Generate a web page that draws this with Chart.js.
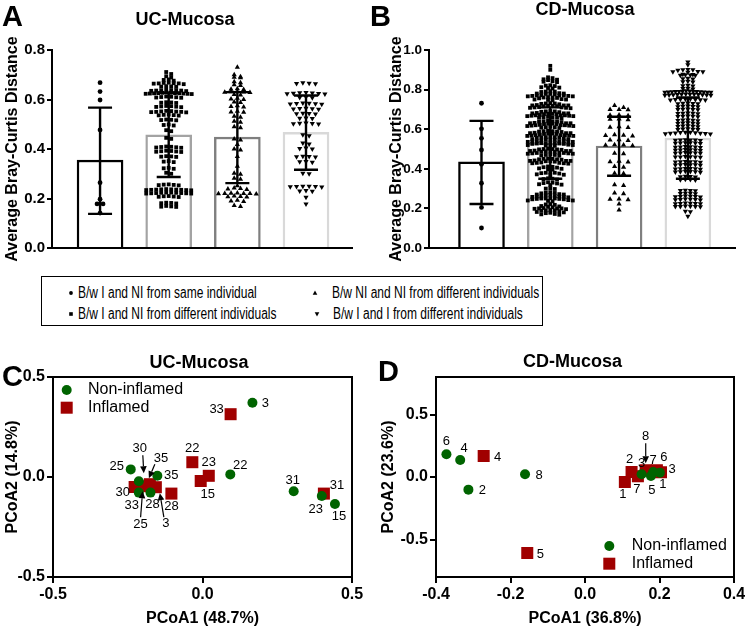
<!DOCTYPE html>
<html><head><meta charset="utf-8">
<script src="https://cdn.jsdelivr.net/npm/chart.js@4.4.1/dist/chart.umd.min.js"></script>
<style>
html,body{margin:0;padding:0;background:#fff;}
body{width:745px;height:628px;position:relative;overflow:hidden;}
canvas{position:absolute;}
#legendBox{position:absolute;left:41px;top:276px;width:502px;height:50px;border:1px solid #000;box-sizing:border-box;font-family:"Liberation Sans",Arial,sans-serif;font-size:16px;color:#000;}
.lg-t{position:absolute;white-space:nowrap;line-height:18px;height:18px;transform:scaleX(0.75);transform-origin:0 50%;}
.lg-m{position:absolute;}
</style></head><body>
<canvas id="cA" width="370" height="265" style="left:0;top:0"></canvas>
<canvas id="cB" width="375" height="265" style="left:370px;top:0"></canvas>
<canvas id="cC" width="370" height="298" style="left:0;top:330px"></canvas>
<canvas id="cD" width="380" height="298" style="left:370px;top:330px"></canvas>
<div id="legendBox">
  <svg class="lg-m" style="left:24.7px;top:12.3px" width="8" height="8"><circle cx="4" cy="4" r="1.9" fill="#000"/></svg>
  <span class="lg-t" style="left:36.3px;top:7.3px">B/w I and NI from same individual</span>
  <svg class="lg-m" style="left:24.7px;top:32.5px" width="8" height="8"><rect x="2.2" y="2.2" width="3.6" height="3.6" fill="#000"/></svg>
  <span class="lg-t" style="left:36.3px;top:27.5px">B/w I and NI from different individuals</span>
  <svg class="lg-m" style="left:269px;top:12.3px" width="8" height="8"><polygon points="4,1.6 6.3,5.8 1.7,5.8" fill="#000"/></svg>
  <span class="lg-t" style="left:289.7px;top:7.3px">B/w NI and NI from different individuals</span>
  <svg class="lg-m" style="left:270.7px;top:32.5px" width="8" height="8"><polygon points="1.7,2.2 6.3,2.2 4,6.4" fill="#000"/></svg>
  <span class="lg-t" style="left:291px;top:27.5px">B/w I and I from different individuals</span>
</div>
<script>
// ======================= DATA =======================
const barCategories = ['B/w I and NI from same individual','B/w I and NI from different individuals','B/w NI and NI from different individuals','B/w I and I from different individuals'];

// ---- Panel A : UC-Mucosa ----
const ucMeans  = [0.355, 0.457, 0.448, 0.467];
const ucSdLow  = [0.138, 0.287, 0.262, 0.316];
const ucSdHigh = [0.567, 0.627, 0.630, 0.616];
const ucSame = [0.668,0.632,0.598,0.477,0.264,0.197,0.178,0.178,0.141];
const ucIvsNIdiff = [
0.711,0.703,0.694,0.689,0.681,0.679,0.676,
0.668,0.667,0.665,0.664,0.665,0.662,0.666,
0.654,0.652,0.651,0.653,
0.638,0.637,0.636,0.635,0.637,0.634,0.636,0.639,
0.627,0.626,0.625,0.624,0.623,0.622,0.624,0.626,0.628,0.625,0.623,0.627,
0.611,0.609,0.608,0.610,0.607,0.612,
0.589,0.587,0.586,0.588,
0.573,0.571,0.570,0.572,0.569,0.574,
0.553,0.551,0.550,0.552,0.549,0.554,0.550,0.548,
0.538,0.537,0.536,0.539,0.535,
0.519,0.517,0.516,0.518,
0.499,0.497,0.495,
0.476,0.472,0.445,0.441,
0.409,0.407,0.406,0.408,0.405,0.410,
0.392,0.390,0.389,0.391,0.388,0.393,
0.371,0.369,0.368,0.370,
0.351,0.349,0.347,
0.324,0.322,0.320,
0.304,0.300,
0.257,0.255,0.254,0.256,0.253,
0.237,0.236,0.235,0.234,0.233,0.236,0.238,0.235,0.234,0.237,
0.224,0.223,0.222,0.221,0.220,0.223,0.222,0.224,0.221,0.220,
0.210,0.208,0.207,0.209,0.206,
0.183,0.181,0.180,0.182,
0.170,0.168,0.167,0.166];
const ucNIvsNIdiff = [
0.730,0.700,0.692,0.690,0.688,0.672,0.668,0.660,0.657,
0.643,0.641,0.640,0.632,0.631,0.629,0.628,0.630,0.620,0.618,
0.605,0.602,0.600,0.590,0.588,0.575,0.572,0.570,0.553,0.550,0.548,
0.532,0.528,0.512,0.508,0.490,0.486,0.440,0.436,0.418,0.400,0.396,
0.370,0.330,0.302,0.298,0.282,0.278,0.252,
0.242,0.240,0.238,0.236,
0.222,0.221,0.220,0.219,0.218,0.220,0.220,
0.210,0.208,0.207,0.206,0.193,0.190,0.188,0.172,0.168];
const ucIvsIdiff = [
0.668,0.666,0.664,0.665,
0.628,0.626,0.625,0.624,0.623,0.627,0.622,
0.610,0.608,0.607,
0.585,0.583,0.582,0.584,0.581,0.586,
0.564,0.562,0.563,0.561,0.565,
0.544,0.542,0.543,0.541,
0.525,0.523,0.524,
0.505,0.503,0.502,0.504,0.501,
0.458,0.454,0.424,0.420,0.404,0.402,0.400,
0.371,0.369,0.368,0.370,0.350,0.348,0.346,
0.302,0.300,
0.250,0.249,0.248,0.247,0.246,0.248,
0.232,0.230,0.229,0.205,0.178];

// ---- Panel B : CD-Mucosa ----
const cdMeans  = [0.435, 0.530, 0.515, 0.555];
const cdSdLow  = [0.222, 0.350, 0.365, 0.350];
const cdSdHigh = [0.642, 0.710, 0.663, 0.760];
const cdSame = [0.731,0.602,0.554,0.495,0.423,0.327,0.205,0.101];
const cdIvsNIdiff = [
0.920,0.900,0.862,0.858,0.852,0.850,0.848,0.842,0.840,0.838,
0.822,0.820,0.818,0.812,0.810,0.808,0.806,
0.792,0.790,0.790,0.788,0.782,0.780,0.780,0.778,0.778,0.776,
0.772,0.770,0.770,0.770,0.768,0.768,0.766,0.766,
0.762,0.760,0.760,0.758,0.756,0.752,0.750,0.750,0.748,0.746,
0.732,0.730,0.730,0.728,0.726,
0.722,0.720,0.720,0.720,0.718,0.718,0.716,0.716,
0.712,0.710,0.710,0.708,0.708,0.706,
0.692,0.690,0.690,0.688,0.686,
0.682,0.680,0.680,0.680,0.678,0.678,0.676,0.676,
0.672,0.670,0.670,0.670,0.668,0.668,0.666,0.666,
0.662,0.660,0.660,0.658,0.658,0.656,
0.642,0.640,0.640,0.638,0.638,0.636,
0.632,0.630,0.630,0.630,0.628,0.628,0.626,0.626,
0.622,0.620,0.620,0.620,0.618,0.618,0.616,0.616,
0.612,0.610,0.610,0.608,0.606,
0.592,0.590,0.590,0.588,0.588,0.586,
0.582,0.580,0.580,0.580,0.578,0.578,0.576,0.576,
0.572,0.570,0.570,0.570,0.568,0.568,0.566,0.566,
0.562,0.560,0.560,0.558,0.558,0.556,
0.552,0.550,0.550,0.548,0.548,0.546,
0.542,0.540,0.540,0.540,0.538,0.538,0.536,0.536,
0.532,0.530,0.530,0.530,0.528,0.528,0.526,0.526,
0.522,0.520,0.520,0.518,0.518,0.516,
0.502,0.500,0.500,0.498,0.498,0.496,
0.492,0.490,0.490,0.490,0.488,0.488,0.486,0.486,
0.482,0.480,0.480,0.478,0.478,0.476,0.476,
0.472,0.470,0.470,0.468,0.466,
0.452,0.450,0.450,0.448,0.448,0.446,
0.442,0.440,0.440,0.440,0.438,0.438,0.436,
0.432,0.430,0.430,0.428,0.428,0.426,
0.412,0.410,0.408,0.406,0.402,0.400,0.398,0.396,
0.382,0.380,0.380,0.378,0.376,0.372,0.370,0.368,
0.352,0.350,0.348,0.346,0.332,0.330,0.328,0.326,0.322,0.320,0.318,
0.302,0.300,0.298,0.282,0.280,0.278,0.276,
0.272,0.270,0.270,0.268,0.266,
0.262,0.260,0.260,0.260,0.258,0.258,0.256,
0.252,0.250,0.250,0.250,0.248,0.248,0.246,0.246,
0.242,0.240,0.240,0.238,0.236,
0.222,0.220,0.218,0.212,0.210,0.208,0.206,
0.202,0.200,0.200,0.200,0.198,0.196,
0.192,0.190,0.190,0.188,0.186,
0.182,0.180,0.178,0.176,0.172,0.170,0.168];
const cdNIvsNIdiff = [
0.720,0.710,0.700,0.700,0.698,0.672,0.670,0.668,0.652,0.650,0.648,
0.612,0.610,0.608,0.572,0.570,0.568,0.566,0.547,0.545,0.543,
0.522,0.520,0.519,0.517,0.478,0.476,0.438,0.436,0.434,0.412,0.408,
0.378,0.376,0.320,0.316,0.278,0.274,0.248,0.246,0.244,0.222,0.192];
const cdIvsIdiff = [
0.940,0.925,0.902,0.900,0.900,0.898,0.892,0.890,0.890,0.888,
0.878,0.876,0.875,0.874,0.873,0.872,0.857,0.855,0.853,0.842,0.840,0.838,
0.822,0.820,0.818,0.807,0.805,0.803,
0.794,0.793,0.792,0.791,0.790,0.790,0.790,0.789,0.789,0.788,0.788,0.787,0.786,0.786,
0.778,0.777,0.776,0.776,0.775,0.775,0.774,0.774,0.773,0.773,0.772,0.771,
0.753,0.752,0.751,0.750,0.750,0.749,0.748,0.747,
0.732,0.731,0.730,0.729,0.728,0.717,0.716,0.715,0.714,0.713,
0.702,0.701,0.700,0.699,0.698,0.682,0.681,0.680,0.679,0.678,
0.667,0.666,0.665,0.664,0.663,0.647,0.646,0.645,0.644,0.643,
0.632,0.631,0.630,0.629,0.628,0.617,0.616,0.615,0.614,0.613,
0.602,0.601,0.600,0.599,0.598,
0.585,0.584,0.583,0.582,0.581,0.580,0.579,0.578,0.577,0.576,
0.547,0.546,0.545,0.545,0.544,0.543,0.532,0.531,0.530,0.530,0.529,0.528,
0.512,0.511,0.510,0.510,0.509,0.508,0.497,0.496,0.495,0.495,0.494,0.493,
0.482,0.481,0.480,0.480,0.479,0.478,0.462,0.461,0.460,0.460,0.459,0.458,
0.437,0.436,0.435,0.435,0.434,0.433,0.422,0.421,0.420,0.420,0.419,0.418,
0.402,0.401,0.400,0.400,0.399,0.398,0.387,0.386,0.385,0.385,0.384,0.383,
0.362,0.361,0.360,0.359,0.347,0.346,0.345,0.344,
0.292,0.291,0.290,0.289,0.277,0.276,0.275,0.274,
0.262,0.261,0.260,0.260,0.259,0.258,0.247,0.246,0.245,0.245,0.244,0.243,
0.227,0.226,0.225,0.225,0.224,0.223,0.212,0.211,0.210,0.210,0.209,0.208,
0.185,0.183,0.160];

const yTicksA = [0, 0.2, 0.4, 0.6, 0.8];
const yTicksB = [0, 0.2, 0.4, 0.6, 0.8, 1.0];

// ---- Panel C : UC-Mucosa PCoA ----
const ucNonInfIds = [3, 25, 35, 30, 33, 28, 22, 31, 23, 15];
const ucNonInfX   = [0.167,-0.240,-0.151,-0.213,-0.213,-0.174,0.093,0.305,0.399,0.443];
const ucNonInfY   = [0.371, 0.038, 0.006,-0.021,-0.078,-0.078,0.013,-0.071,-0.095,-0.135];
const ucInfIds = [33, 22, 23, 15, 28, 31, 30, 25, 35, 3];
const ucInfX   = [0.094,-0.034,0.021,-0.006,-0.104,0.406,-0.227,-0.197,-0.176,-0.156];
const ucInfY   = [0.314, 0.074,0.006,-0.020,-0.083,-0.083,-0.050,-0.046,-0.036,-0.051];
const ticksCx = [-0.5, 0, 0.5];
const ticksCy = [-0.5, 0, 0.5];

// ---- Panel D : CD-Mucosa PCoA ----
const cdNonInfIds = [6, 4, 2, 8, 3, 5, 7, 1];
const cdNonInfX   = [-0.372,-0.335,-0.313,-0.161,0.152,0.177,0.183,0.201];
const cdNonInfY   = [0.182, 0.136,-0.101, 0.022,0.022,0.008,0.040,0.035];
const cdInfIds = [4, 5, 1, 2, 7, 8, 6, 3];
const cdInfX   = [-0.272,-0.155,0.107,0.125,0.142,0.163,0.193,0.204];
const cdInfY   = [0.168,-0.608,-0.040,0.040,0.006,0.054,0.054,0.038];
const ticksDx = [-0.4, -0.2, 0, 0.2, 0.4];
const ticksDy = [-0.5, 0, 0.5];

// ================ LAYOUT (label offsets in px, arrows in px) ================
const ucNonInfLabelPos = [[13,1],[-14,-3],[14,0],[1,-33],[-7,13],[2,12],[10,-9],[-1,-11],[-6,13],[4,12]];
const ucNonInfArrows   = [null,null,null,[4,-26,5,-8],null,null,null,null,null,null];
const ucInfLabelPos = [[-14,-5],[0,-14],[0,-13],[7,13],[0,13],[13,-8],[-12,5],[-3,38],[11,-26],[10,36]];
const ucInfArrows   = [null,null,null,null,null,null,null,[-3,31,-1,5],[5,-20,-1,-6],[8,30,4,6]];
const cdNonInfLabelPos = [[0,-13],[4,-12],[14,1],[14,1],[0,-11],[1,14],[0,-12],[3,12]];
const cdNonInfArrows   = [null,null,null,null,null,null,null,null];
const cdInfLabelPos = [[14,1],[13,1],[-2,12],[-2,-13],[-1,13],[0,-34],[7,-13],[11,-3]];
const cdInfArrows   = [null,null,null,null,null,[0,-27,0,-7],null,null];

const FONT = '"Liberation Sans", Arial, Helvetica, sans-serif';
Chart.defaults.font.family = FONT;
Chart.defaults.color = '#000';

const GREEN = '#006400', RED = '#a00000';
const barBorders = ['#000000', '#a3a3a3', '#7f7f7f', '#d9d9d9'];
const markerStyles = [
  {pointStyle:'circle',   radius:2.4, rotation:0},
  {pointStyle:'rect',     radius:2.7, rotation:0},
  {pointStyle:'triangle', radius:3.0, rotation:0},
  {pointStyle:'triangle', radius:3.0, rotation:180}
];

// beeswarm-like horizontal spreading of points sharing a row (layout only)
function swarm(values, center, rowH, stepPx, maxPx, pxPerX) {
  const sorted = [...values].sort((a,b)=>b-a);
  const rows = []; let cur = null;
  for (const v of sorted) {
    if (cur && cur[0] - v < rowH) cur.push(v); else { cur = [v]; rows.push(cur); }
  }
  const pts = [];
  for (const r of rows) {
    const n = r.length;
    const step = n > 1 ? Math.min(stepPx, maxPx/(n-1)) : 0;
    const slots = Array.from({length:n}, (_,j)=>j-(n-1)/2).sort((a,b)=>Math.abs(a)-Math.abs(b) || a-b);
    r.forEach((v,k)=>pts.push({x: center + slots[k]*step/pxPerX, y: v}));
  }
  return pts;
}

const panelPlugin = {
  id:'panel',
  afterDraw(chart, args, o) {
    const ctx = chart.ctx; ctx.save();
    ctx.fillStyle = '#000';
    if (o.frame) {
      const a = chart.chartArea;
      ctx.strokeStyle = '#000'; ctx.lineWidth = 2;
      ctx.beginPath();
      ctx.moveTo(a.left, a.top); ctx.lineTo(a.right, a.top); ctx.lineTo(a.right, a.bottom);
      ctx.stroke();
    }
    ctx.textBaseline = 'middle';
    ctx.textAlign = 'center';
    ctx.font = 'bold 18px ' + FONT;
    ctx.fillText(o.title, o.titleX, o.titleY);
    ctx.textAlign = 'left';
    ctx.font = 'bold 29px ' + FONT;
    ctx.fillText(o.letter, o.letterX, o.letterY);
    if (o.legend) {
      const L = o.legend;
      L.items.forEach((it, i) => {
        const y = L.y + i*L.dy;
        ctx.fillStyle = it.color;
        if (it.style === 'circle') { ctx.beginPath(); ctx.arc(L.x, y, 5, 0, Math.PI*2); ctx.fill(); }
        else { ctx.fillRect(L.x-6, y-6, 12, 12); }
        ctx.fillStyle = '#000';
        ctx.font = '16px ' + FONT;
        ctx.fillText(it.label, L.textX, y);
      });
    }
    ctx.restore();
  }
};

const errPlugin = {
  id:'errbars',
  afterDatasetsDraw(chart, args, o) {
    if (!o.means) return;
    const ctx = chart.ctx, xs = chart.scales.x, ys = chart.scales.y;
    ctx.save(); ctx.strokeStyle = '#000'; ctx.lineWidth = 2.4;
    o.means.forEach((m,i)=>{
      const cx = xs.getPixelForValue(i+1);
      const yl = ys.getPixelForValue(o.lows[i]), yh = ys.getPixelForValue(o.highs[i]);
      ctx.beginPath();
      ctx.moveTo(cx, yl); ctx.lineTo(cx, yh);
      ctx.moveTo(cx-o.cap, yl); ctx.lineTo(cx+o.cap, yl);
      ctx.moveTo(cx-o.cap, yh); ctx.lineTo(cx+o.cap, yh);
      ctx.stroke();
    });
    ctx.restore();
  }
};

function drawArrow(ctx, x1, y1, x2, y2) {
  const ang = Math.atan2(y2-y1, x2-x1), L = 7, W = 3.3;
  const bx = x2 - L*Math.cos(ang), by = y2 - L*Math.sin(ang);
  ctx.lineWidth = 1.2;
  ctx.beginPath(); ctx.moveTo(x1, y1); ctx.lineTo(bx, by); ctx.stroke();
  ctx.beginPath(); ctx.moveTo(x2, y2);
  ctx.lineTo(bx + W*Math.sin(ang), by - W*Math.cos(ang));
  ctx.lineTo(bx - W*Math.sin(ang), by + W*Math.cos(ang));
  ctx.closePath(); ctx.fill();
}

const pointLabelPlugin = {
  id:'pointLabels',
  afterDatasetsDraw(chart) {
    const ctx = chart.ctx; ctx.save();
    ctx.font = '13px ' + FONT; ctx.fillStyle = '#000'; ctx.strokeStyle = '#000';
    ctx.textAlign = 'center'; ctx.textBaseline = 'middle';
    chart.data.datasets.forEach((ds, i) => {
      if (!ds.ids) return;
      const meta = chart.getDatasetMeta(i);
      meta.data.forEach((el, j) => {
        const p = ds.labelPos[j];
        ctx.fillText(String(ds.ids[j]), el.x + p[0], el.y + p[1]);
        const a = ds.arrows && ds.arrows[j];
        if (a) drawArrow(ctx, el.x + a[0], el.y + a[1], el.x + a[2], el.y + a[3]);
      });
    });
    ctx.restore();
  }
};

const titleFont = {size:16, weight:'bold'};

function makeBarChart(id, o) {
  const pxPerX = o.areaW / (o.xMax - o.xMin);
  const groups = [o.g1, o.g2, o.g3, o.g4];
  const datasets = [{
    type:'bar', label:'mean',
    data: o.means.map((m,i)=>({x:i+1, y:m})),
    backgroundColor:'#ffffff', borderColor: barBorders, borderWidth:2.4,
    barThickness:46, order:10
  }];
  groups.forEach((g,i)=>{
    const ms = markerStyles[i];
    datasets.push({
      type:'scatter', label: barCategories[i],
      data: swarm(g, i+1, o.rowH, o.steps[i], 46, pxPerX),
      pointStyle: ms.pointStyle, pointRadius: ms.radius, pointRotation: ms.rotation,
      pointBackgroundColor:'#000', pointBorderWidth:0, pointHoverRadius: ms.radius, order:1
    });
  });
  return new Chart(document.getElementById(id), {
    type:'bar',
    data:{datasets},
    options:{
      responsive:false, animation:false, events:[],
      layout:{padding:{left:0, right:o.padR, top:o.areaTop, bottom:0}},
      plugins:{
        legend:{display:false}, tooltip:{enabled:false},
        panel:{title:o.title, titleX:o.titleX, titleY:o.titleY, letter:o.letter, letterX:o.letterX, letterY:o.letterY},
        errbars:{means:o.means, lows:o.lows, highs:o.highs, cap:12}
      },
      scales:{
        x:{type:'linear', min:o.xMin, max:o.xMax, offset:false,
           grid:{display:false, offset:false}, ticks:{display:false},
           border:{display:true, color:'#000', width:2},
           afterFit:s=>{s.height = o.xH;}},
        y:{type:'linear', min:0, max:o.yMax,
           afterBuildTicks:s=>{s.ticks = o.yTicks.map(v=>({value:v}));},
           ticks:{callback:v=>Number(v).toFixed(1), font:{size:o.tickSize, weight:'bold'}, color:'#000', padding:2},
           grid:{drawOnChartArea:false, drawTicks:true, tickLength:5, color:'#000', lineWidth:2},
           border:{display:true, color:'#000', width:2},
           title:{display:true, text:'Average Bray-Curtis Distance', font:titleFont, color:'#000', padding:{top:o.yTitlePad, bottom:0}},
           afterFit:s=>{s.width = o.areaLeft;}}
      }
    },
    plugins:[panelPlugin, errPlugin]
  });
}

function makePcoaChart(id, o) {
  const mk = (xs, ys) => xs.map((x,i)=>({x, y:ys[i]}));
  return new Chart(document.getElementById(id), {
    type:'scatter',
    data:{datasets:[
      {label:'Non-inflamed', data: mk(o.gx, o.gy), ids:o.gIds, labelPos:o.gPos, arrows:o.gArr,
       pointStyle:'circle', pointRadius:5, pointHoverRadius:5, pointBackgroundColor:GREEN, pointBorderWidth:0, order:1},
      {label:'Inflamed', data: mk(o.rx, o.ry), ids:o.rIds, labelPos:o.rPos, arrows:o.rArr,
       pointStyle:'rect', pointRadius:8.5, pointHoverRadius:8.5, pointBackgroundColor:RED, pointBorderWidth:0, order:2}
    ]},
    options:{
      responsive:false, animation:false, events:[],
      layout:{padding:{left:0, right:o.padR, top:o.areaTop, bottom:0}},
      plugins:{
        legend:{display:false}, tooltip:{enabled:false},
        panel:{title:o.title, titleX:o.titleX, titleY:o.titleY, letter:o.letter, letterX:o.letterX, letterY:o.letterY, frame:true,
               legend:{x:o.legX, y:o.legY, dy:17.7, textX:o.legTextX,
                       items:[{label:'Non-inflamed', style:'circle', color:GREEN},{label:'Inflamed', style:'rect', color:RED}]}}
      },
      scales:{
        x:{type:'linear', min:o.xMin, max:o.xMax,
           afterBuildTicks:s=>{s.ticks = o.xTicks.map(v=>({value:v}));},
           ticks:{callback:v=>Number(v).toFixed(1), font:{size:16, weight:'bold'}, color:'#000', padding:2, maxRotation:0},
           grid:{drawOnChartArea:false, drawTicks:true, tickLength:6, color:'#000', lineWidth:2},
           border:{display:true, color:'#000', width:2},
           title:{display:true, text:o.xTitle, font:titleFont, color:'#000', padding:{top:0, bottom:o.xTitlePad}},
           afterFit:s=>{s.height = o.xH;}},
        y:{type:'linear', min:o.yMin, max:o.yMax,
           afterBuildTicks:s=>{s.ticks = o.yTicks.map(v=>({value:v}));},
           ticks:{callback:v=>Number(v).toFixed(1), font:{size:16, weight:'bold'}, color:'#000', padding:2},
           grid:{drawOnChartArea:false, drawTicks:true, tickLength:6, color:'#000', lineWidth:2},
           border:{display:true, color:'#000', width:2},
           title:{display:true, text:o.yTitle, font:titleFont, color:'#000', padding:{top:o.yTitlePad, bottom:0}},
           afterFit:s=>{s.width = o.areaLeft;}}
      }
    },
    plugins:[panelPlugin, pointLabelPlugin]
  });
}

makeBarChart('cA', {
  means:ucMeans, lows:ucSdLow, highs:ucSdHigh, g1:ucSame, g2:ucIvsNIdiff, g3:ucNIvsNIdiff, g4:ucIvsIdiff,
  yMax:0.8, yTicks:yTicksA, xMin:0.30, xMax:4.67, areaW:300, areaLeft:52, areaTop:50, padR:18, xH:17,
  rowH:0.010, yTitlePad:3.4, tickSize:15, steps:[6, 5, 6.3, 6.3],
  title:'UC-Mucosa', titleX:185, titleY:20, letter:'A', letterX:2, letterY:18
});
makeBarChart('cB', {
  means:cdMeans, lows:cdSdLow, highs:cdSdHigh, g1:cdSame, g2:cdIvsNIdiff, g3:cdNIvsNIdiff, g4:cdIvsIdiff,
  yMax:1.0, yTicks:yTicksB, xMin:0.237, xMax:4.685, areaW:306, areaLeft:59, areaTop:50, padR:10, xH:17,
  rowH:0.0126, yTitlePad:17, tickSize:13.5, steps:[6, 4.5, 9, 5],
  title:'CD-Mucosa', titleX:215, titleY:10, letter:'B', letterX:0, letterY:18
});
makePcoaChart('cC', {
  gx:ucNonInfX, gy:ucNonInfY, gIds:ucNonInfIds, gPos:ucNonInfLabelPos, gArr:ucNonInfArrows,
  rx:ucInfX, ry:ucInfY, rIds:ucInfIds, rPos:ucInfLabelPos, rArr:ucInfArrows,
  xMin:-0.5, xMax:0.5, yMin:-0.5, yMax:0.5, xTicks:ticksCx, yTicks:ticksCy,
  areaLeft:53, areaTop:47, padR:18, xH:51, xTitlePad:0, yTitlePad:2.9,
  xTitle:'PCoA1 (48.7%)', yTitle:'PCoA2 (14.8%)',
  title:'UC-Mucosa', titleX:199, titleY:33, letter:'C', letterX:2, letterY:48,
  legX:66.7, legY:60, legTextX:88
});
makePcoaChart('cD', {
  gx:cdNonInfX, gy:cdNonInfY, gIds:cdNonInfIds, gPos:cdNonInfLabelPos, gArr:cdNonInfArrows,
  rx:cdInfX, ry:cdInfY, rIds:cdInfIds, rPos:cdInfLabelPos, rArr:cdInfArrows,
  xMin:-0.4, xMax:0.4, yMin:-0.8, yMax:0.8, xTicks:ticksDx, yTicks:ticksDy,
  areaLeft:66, areaTop:47, padR:16, xH:51, xTitlePad:0, yTitlePad:9.4,
  xTitle:'PCoA1 (36.8%)', yTitle:'PCoA2 (23.6%)',
  title:'CD-Mucosa', titleX:202.5, titleY:32, letter:'D', letterX:8, letterY:43,
  legX:239.3, legY:216, legTextX:261.7
});
</script>
</body></html>
